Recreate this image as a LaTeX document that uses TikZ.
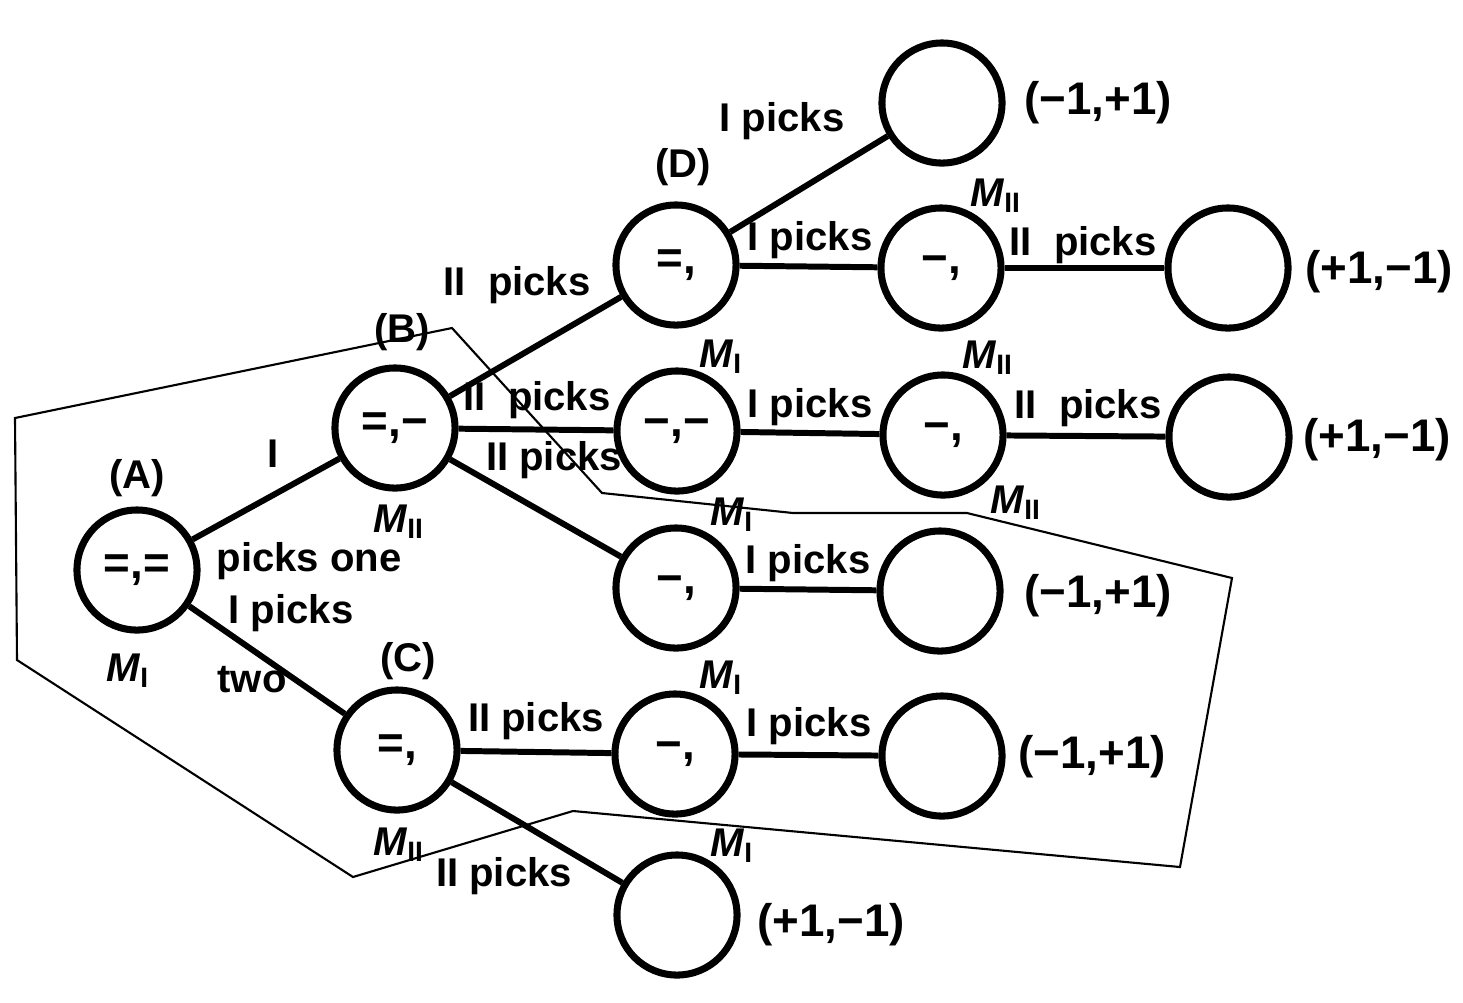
\documentclass[tikz,border=0pt]{standalone}
\usepackage{fontspec}
\setmainfont{Liberation Sans}
\usepackage{tikz}
\newcommand\MI{\textit{M}\textsubscript{I}}
\newcommand\MII{\textit{M}\textsubscript{II}}
\tikzstyle{every edge} = [draw,line width=1.7pt]
\tikzstyle{state} = [draw,circle,line width=2pt,minimum size=1.2cm,inner sep=0pt,font=\fontsize{13}{15}\selectfont\bfseries]
\tikzstyle{pick} = [inner sep=1pt,font=\fontsize{11.4}{13}\selectfont\bfseries]
\tikzstyle{pay} = [inner sep=1pt,font=\fontsize{13}{15}\selectfont\bfseries]
\tikzstyle{info} = [line width=0.6pt]

\begin{document}
\begin{tikzpicture}[x=0.01cm,y=-0.01cm]
\useasboundingbox (0,0) rectangle (1463,1002);

\node[state] (a) at (137,570) {=,=};
\node[state] (b) at (395,428) {=,−};
\node[state] (c) at (397,750) {=,};
\node[state] (d) at (676,265) {=,};
\node[state] (dt) at (942,103) {};
\node[state] (dm) at (941,268) {−,};
\node[state] (dmt) at (1228,268) {};
\node[state] (e) at (677,431) {−,−};
\node[state] (em) at (943,435) {−,};
\node[state] (emt) at (1229,437) {};
\node[state] (f) at (676,588) {−,};
\node[state] (ft) at (940,591) {};
\node[state] (g) at (675,754) {−,};
\node[state] (gt) at (942,756) {};
\node[state] (h) at (677,915) {};

\draw (a) edge (b);
\draw (a) edge (c);
\draw (b) edge (d);
\draw (b) edge (e);
\draw (b) edge (f);
\draw (c) edge (g);
\draw (c) edge (h);
\draw (d) edge (dt);
\draw (d) edge (dm);
\draw (dm) edge (dmt);
\draw (e) edge (em);
\draw (em) edge (emt);
\draw (f) edge (ft);
\draw (g) edge (gt);

% names of the positions and of the movers
\node[pick] (nA) at (137,478) {(A)};
\node[pick] (nB) at (402,332) {(B)};
\node[pick] (nC) at (408,661) {(C)};
\node[pick] (nD) at (683,167) {(D)};
\node[pick] (ma) at (128,671) {\MI};
\node[pick] (mb) at (399,522) {\MII};
\node[pick] (mc) at (399,845) {\MII};
\node[pick] (mdm) at (996,196) {\MII};
\node[pick] (me) at (721,357) {\MI};
\node[pick] (mem) at (988,358) {\MII};
\node[pick] (memb) at (1016,503) {\MII};
\node[pick] (mf) at (732,515) {\MI};
\node[pick] (mg) at (721,678) {\MI};
\node[pick] (mh) at (732,846) {\MI};

% moves
\node[pick] (lab1) at (273,454) {I};
\node[pick] (lab2) at (309,561) {picks one};
\node[pick] (lac1) at (291,613) {I picks};
\node[pick] (lac2) at (252,680) {two};
\node[pick] (lbd) at (517,285) {II\ \ picks};
\node[pick] (lbe) at (537,400) {II\ \ picks};
\node[pick] (lbf) at (554,460) {II picks};
\node[pick] (lcg) at (536,721) {II picks};
\node[pick] (lch) at (504,876) {II picks};
\node[pick] (ldt) at (782,121) {I picks};
\node[pick] (ldm) at (810,240) {I picks};
\node[pick] (lem) at (810,407) {I picks};
\node[pick] (lft) at (808,563) {I picks};
\node[pick] (lgt) at (809,726) {I picks};
\node[pick] (ldmt) at (1083,245) {II\ \ picks};
\node[pick] (lemt) at (1088,408) {II\ \ picks};

% payoffs
\node[pay] (pdt) at (1098,103) {(−1,+1)};
\node[pay] (pdmt) at (1379,272) {(+1,−1)};
\node[pay] (pemt) at (1377,440) {(+1,−1)};
\node[pay] (pft) at (1098,596) {(−1,+1)};
\node[pay] (pgt) at (1092,757) {(−1,+1)};
\node[pay] (ph) at (831,925) {(+1,−1)};

% information set
\draw[info] (15,418) -- (452,328) -- (602,493) -- (793,513) -- (967,513)
  -- (1232,578) -- (1180,867) -- (573,811) -- (353,877) -- (17,660) -- cycle;

\end{tikzpicture}
\end{document}
